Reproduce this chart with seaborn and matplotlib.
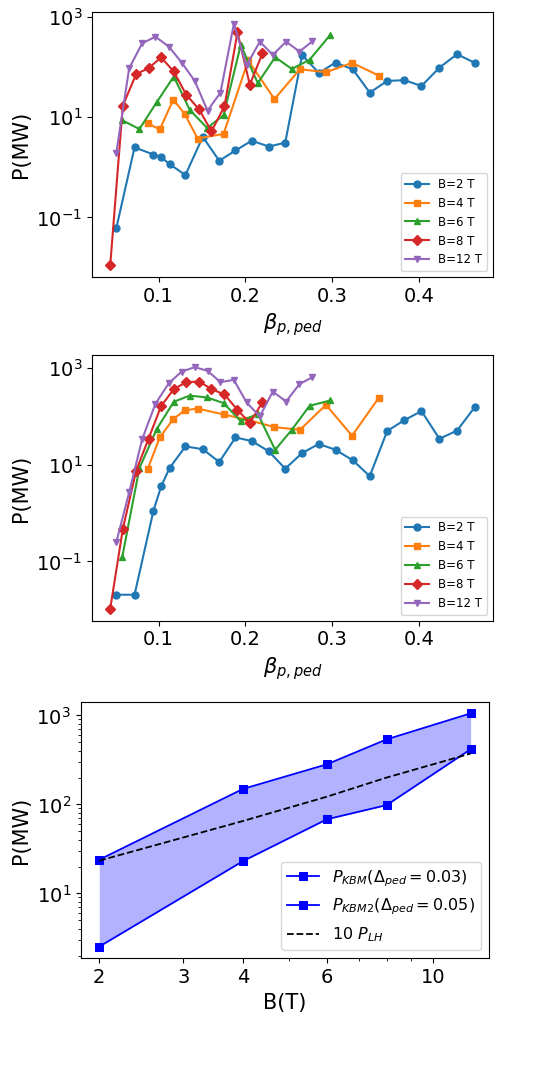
import matplotlib
matplotlib.use('Agg')
import matplotlib.pyplot as plt
import matplotlib.ticker as mticker
import seaborn as sns
import pandas as pd

# Pedestal beta grid for each field value
x_b2 = [0.0513, 0.0724, 0.0942, 0.103, 0.1127, 0.131, 0.151, 0.170, 0.1887,
        0.2075, 0.227, 0.246, 0.2655, 0.2847, 0.304, 0.324, 0.3434, 0.3635,
        0.3834, 0.403, 0.4237, 0.444, 0.4644]
x_b4 = [0.0877, 0.1015, 0.117, 0.130, 0.145, 0.175, 0.2033, 0.2336, 0.263,
        0.293, 0.323, 0.3538]
x_b6 = [0.0582, 0.078, 0.098, 0.1176, 0.136, 0.156, 0.175, 0.1948, 0.2144,
        0.2344, 0.2536, 0.274, 0.2978]
x_b8 = [0.0444, 0.0589, 0.0743, 0.0885, 0.103, 0.1176, 0.132, 0.1469, 0.161,
        0.176, 0.191, 0.2052, 0.2198]
x_b12 = [0.0513, 0.0662, 0.0812, 0.0965, 0.1119, 0.1268, 0.1418, 0.1565,
         0.1714, 0.1868, 0.2014, 0.2167, 0.2317, 0.247, 0.2624, 0.2774]

# Top panel: power (MW)
p1_b2 = [0.06, 2.5, 1.8, 1.6, 1.16, 0.70, 4.06, 1.35, 2.17, 3.4, 2.6, 3.1,
         174, 77, 123, 90, 31, 53, 55, 42, 98, 181, 122]
p1_b4 = [7.5, 5.7, 22.4, 11.8, 3.76, 4.65, 136, 23, 91, 79, 122, 68]
p1_b6 = [8.7, 5.8, 20, 65, 14, 6.1, 11, 277, 48, 158, 92, 140, 438]
p1_b8 = [0.0112, 17, 73, 95, 156, 82, 28, 14.3, 5.2, 16.5, 496, 44.6, 189]
p1_b12 = [1.9, 95, 300, 405, 257, 123, 53, 13.5, 31, 725, 108, 323, 176,
          323, 205, 329]

# Middle panel: power (MW)
p2_b2 = [0.0204, 0.0204, 1.12, 3.56, 8.5, 24, 21, 11.4, 36.7, 31, 19, 8.3,
         17.5, 27, 20.4, 12.3, 5.8, 50, 84, 129, 34.5, 51, 156]
p2_b4 = [8.3, 37, 88, 133, 146, 110, 85, 60, 53, 174, 40, 243]
p2_b6 = [0.123, 8.5, 55, 201, 271, 247, 189, 80, 113, 20.4, 53, 166, 214]
p2_b8 = [0.0105, 0.47, 7.6, 34.5, 164, 368, 513, 528, 368, 285, 137, 73, 198]
p2_b12 = [0.247, 2.67, 34, 183, 490, 850, 1050, 880, 513, 573, 196, 100,
          328, 204, 467, 652]

labels = ['B=2 T', 'B=4 T', 'B=6 T', 'B=8 T', 'B=12 T']
xs = [x_b2, x_b4, x_b6, x_b8, x_b12]

# Bottom panel
B_field = [2, 4, 6, 8, 12]
p_kbm = [2.52, 23, 68, 98, 416]
p_kbm2 = [23.9, 149, 282, 537, 1052]
p_lh10 = [23.3, 65, 122, 200, 372]


def long_df(ys):
    frames = []
    for name, x, y in zip(labels, xs, ys):
        frames.append(pd.DataFrame({'beta': x, 'P': y, 'B': name}))
    return pd.concat(frames, ignore_index=True)


def beta_panel(ax, df):
	sns.lineplot(data=df, x='beta', y='P', hue='B', style='B',
		markers=['o', 's', '^', 'D', 'v'], dashes=False,
		palette=sns.color_palette('tab10', 5), estimator=None, sort=False,
		legend=False, markersize=5, linewidth=1.5, ax=ax)
	for ln in ax.lines:
		ln.set_markeredgecolor(ln.get_color())
		ln.set_markeredgewidth(1)
	ax.set_yscale('log')
	ax.set_yticks([1e-1, 1e1, 1e3])
	ax.yaxis.set_minor_locator(mticker.NullLocator())
	ax.set_xticks([0.1, 0.2, 0.3, 0.4])
	ax.set_xlabel(r'$\beta_{p,ped}$', fontsize=15)
	ax.set_ylabel('P(MW)', fontsize=15)
	ax.tick_params(labelsize=14)
	ax.legend(ax.lines[:5], labels, loc='lower right', fontsize=8.5)


fig = plt.figure(figsize=(5.52, 10.73), dpi=100)

ax1 = fig.add_axes([0.1667, 0.7418, 0.7264, 0.247])
beta_panel(ax1, long_df([p1_b2, p1_b4, p1_b6, p1_b8, p1_b12]))

ax2 = fig.add_axes([0.1667, 0.4215, 0.7264, 0.2476])
beta_panel(ax2, long_df([p2_b2, p2_b4, p2_b6, p2_b8, p2_b12]))

# Bottom panel: KBM power band vs field
ax3 = fig.add_axes([0.1462, 0.1069, 0.740, 0.2391])
ax3.fill_between(B_field, p_kbm, p_kbm2, color='blue', alpha=0.3, lw=0)
sns.lineplot(x=B_field, y=p_kbm, color='blue', marker='s', markersize=6,
	markeredgecolor='blue', linewidth=1.3, estimator=None, ax=ax3)
sns.lineplot(x=B_field, y=p_kbm2, color='blue', marker='s', markersize=6,
	markeredgecolor='blue', linewidth=1.3, estimator=None, ax=ax3)
sns.lineplot(x=B_field, y=p_lh10, color='black', linestyle='--',
	linewidth=1.3, estimator=None, ax=ax3)
ax3.set_xscale('log')
ax3.set_yscale('log')
ax3.xaxis.set_major_locator(mticker.FixedLocator([2, 3, 4, 6, 10]))
ax3.xaxis.set_major_formatter(mticker.FixedFormatter(['2', '3', '4', '6', '10']))
ax3.xaxis.set_minor_locator(mticker.FixedLocator([5, 7, 8, 9]))
ax3.xaxis.set_minor_formatter(mticker.NullFormatter())
ax3.set_xlabel('B(T)', fontsize=15)
ax3.set_ylabel('P(MW)', fontsize=15)
ax3.tick_params(labelsize=14)
ax3.legend(ax3.lines[:3],
	[r'$P_{KBM}(\Delta_{ped}=0.03)$', r'$P_{KBM2}(\Delta_{ped}=0.05)$',
	 r'10 $P_{LH}$'], loc='lower right', fontsize=11.5)

plt.savefig('out.png', dpi=100)
